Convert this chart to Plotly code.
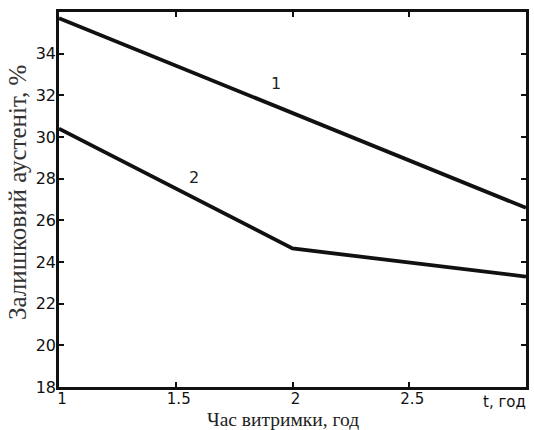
import plotly.graph_objects as go

# holding time, h
hold_time = [1, 2, 3]
# retained austenite, % (curves 1 and 2)
austenite_1 = [35.7, 31.15, 26.6]
austenite_2 = [30.4, 24.65, 23.3]

x_ticks = [1, 1.5, 2, 2.5]
x_ticktext = ["1", "1.5", "2", "2.5"]
y_ticks = [18, 20, 22, 24, 26, 28, 30, 32, 34]

curve_labels = [("1", 1.93, 32.55), ("2", 1.58, 28.05)]

fig = go.Figure()
for ys in (austenite_1, austenite_2):
    fig.add_trace(go.Scatter(
        x=hold_time, y=ys, mode="lines",
        line=dict(color="#111111", width=3.8),
        showlegend=False, hoverinfo="skip",
    ))

annotations = [
    dict(text=t, x=x, y=y, xref="x", yref="y", showarrow=False,
         font=dict(family="DejaVu Sans", size=16, color="#222222"))
    for t, x, y in curve_labels
]
# unit label in place of the last x tick
annotations.append(dict(
    text="t, год", x=2.91, y=0, xref="x", yref="paper",
    xanchor="center", yanchor="top", yshift=-4, showarrow=False,
    font=dict(family="DejaVu Sans", size=15, color="#111111"),
))
# axis titles
annotations.append(dict(
    text="Час витримки, год", x=0.48, y=0, xref="paper", yref="paper",
    xanchor="center", yanchor="middle", yshift=-32, showarrow=False,
    font=dict(family="Liberation Serif", size=19.5, color="#222222"),
))
annotations.append(dict(
    text="Залишковий аустеніт, %", x=-0.09, y=0.52, xref="paper", yref="paper",
    xanchor="center", yanchor="middle", textangle=-90, showarrow=False,
    font=dict(family="Liberation Serif", size=25, color="#333333"),
))

axis_common = dict(
    showline=True, linecolor="#111111", linewidth=2.5, mirror="ticks",
    ticks="inside", ticklen=5, tickwidth=2, tickcolor="#111111",
    showgrid=False, zeroline=False, automargin=False,
)

fig.update_layout(
    width=534, height=430,
    margin=dict(l=59, r=8, t=12, b=43),
    paper_bgcolor="white", plot_bgcolor="white",
    xaxis=dict(
        range=[1, 3], tickvals=x_ticks, ticktext=x_ticktext,
        ticklabelshift=3, ticklabelstandoff=-4,
        tickfont=dict(family="DejaVu Sans", size=15, color="#111111"),
        **axis_common,
    ),
    yaxis=dict(
        range=[18, 36], tickvals=y_ticks, ticklabelstandoff=-3,
        tickfont=dict(family="DejaVu Sans", size=16, color="#111111"),
        **axis_common,
    ),
    annotations=annotations,
)

fig.write_html("out.html")
